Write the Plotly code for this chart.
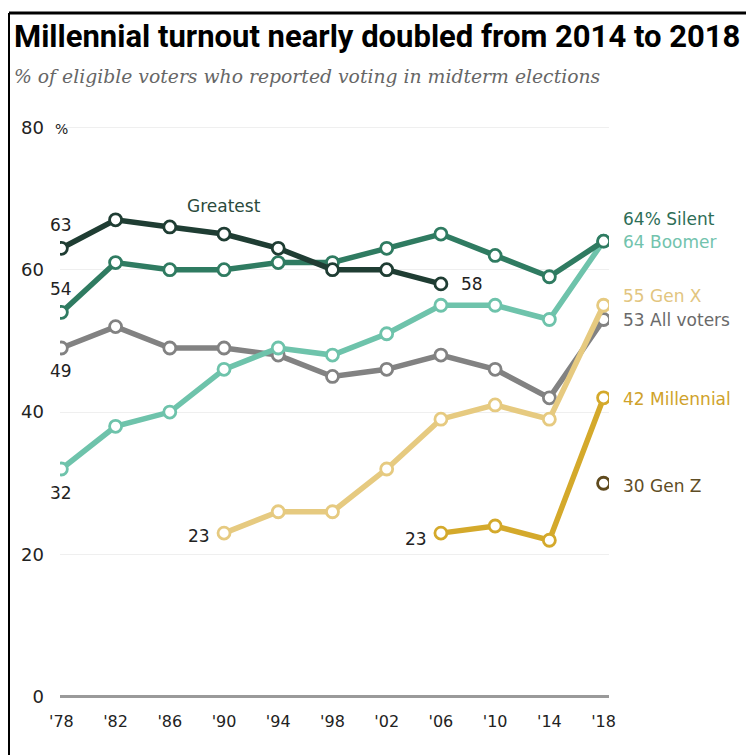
import plotly.graph_objects as go

years = [1978, 1982, 1986, 1990, 1994, 1998, 2002, 2006, 2010, 2014, 2018]
tick_text = ["'78", "'82", "'86", "'90", "'94", "'98", "'02", "'06", "'10", "'14", "'18"]

greatest = [63, 67, 66, 65, 63, 60, 60, 58, None, None, None]
silent = [54, 61, 60, 60, 61, 61, 63, 65, 62, 59, 64]
boomer = [32, 38, 40, 46, 49, 48, 51, 55, 55, 53, 64]
all_voters = [49, 52, 49, 49, 48, 45, 46, 48, 46, 42, 53]
gen_x = [None, None, None, 23, 26, 26, 32, 39, 41, 39, 55]
millennial = [None, None, None, None, None, None, None, 23, 24, 22, 42]
gen_z = [None, None, None, None, None, None, None, None, None, None, 30]

colors = {
    "Greatest": "#1f3d33",
    "Silent": "#2f7b61",
    "Boomer": "#6ec3ab",
    "All voters": "#828282",
    "Gen X": "#e6ca80",
    "Millennial": "#d4a92b",
    "Gen Z": "#5f4a1e",
}

fig = go.Figure()

series = [
    ("All voters", all_voters),
    ("Boomer", boomer),
    ("Silent", silent),
    ("Greatest", greatest),
    ("Gen X", gen_x),
    ("Millennial", millennial),
    ("Gen Z", gen_z),
]
for name, vals in series:
    c = colors[name]
    fig.add_trace(go.Scatter(
        x=years, y=vals, mode="lines+markers", name=name,
        line=dict(color=c, width=5.5),
        marker=dict(symbol="circle", size=12, color="white",
                    line=dict(color=c, width=2.8)),
        connectgaps=False, showlegend=False, hoverinfo="skip",
    ))

FONT = "DejaVu Sans"
ann = []
right_labels = [
    ("64% Silent", 64, 22, "#2e6e57"),
    ("64 Boomer", 64, -1, "#72c3ad"),
    ("55 Gen X", 55, 9, "#e2c57f"),
    ("53 All voters", 53, -1, "#6a6a6a"),
    ("42 Millennial", 42, -1, "#cfa22a"),
    ("30 Gen Z", 30, -3, "#5f4d25"),
]
for txt, yv, ys, col in right_labels:
    ann.append(dict(x=2018, y=yv, xref="x", yref="y", text=txt, showarrow=False,
                    xanchor="left", yanchor="middle", xshift=17, yshift=ys,
                    font=dict(family=FONT, size=17, color=col)))

dark = "#222222"
left_labels = [
    ("63", 1978, greatest[0], 0, 23, "center"),
    ("54", 1978, silent[0], 0, 23, "center"),
    ("49", 1978, all_voters[0], 0, -23, "center"),
    ("32", 1978, boomer[0], 0, -24, "center"),
    ("23", 1990, gen_x[3], -12, -3, "right"),
    ("23", 2006, millennial[7], -12, -6, "right"),
    ("58", 2006, greatest[7], 18, 0, "left"),
]
for txt, xv, yv, xs, ys, xa in left_labels:
    ann.append(dict(x=xv, y=yv, xref="x", yref="y", text=txt, showarrow=False,
                    xanchor=xa, yanchor="middle", xshift=xs, yshift=ys,
                    font=dict(family=FONT, size=17, color=dark)))

ann.append(dict(x=1990, y=69, xref="x", yref="y", text="Greatest", showarrow=False,
                xanchor="center", yanchor="middle",
                font=dict(family=FONT, size=17, color="#2b4a3c")))

# page has an 8px body margin; positions below are in figure pixels
L, R, T, B = 52, 601, 105, 696
W, H = R - L, B - T
def px(xp):
    return (xp - L) / W
def py(yp):
    return (B - yp) / H

ann.append(dict(x=px(4), y=py(28), xref="paper", yref="paper",
                text="<b>Millennial turnout nearly doubled from 2014 to 2018</b>",
                showarrow=False, xanchor="left", yanchor="middle",
                font=dict(family="Roboto", size=31, color="#000000")))
ann.append(dict(x=px(4), y=py(68), xref="paper", yref="paper",
                text="<i>% of eligible voters who reported voting in midterm elections</i>",
                showarrow=False, xanchor="left", yanchor="middle",
                font=dict(family="DejaVu Serif", size=18.8, color="#666666")))
ann.append(dict(x=px(45), y=80, xref="paper", yref="y", text="%", showarrow=False,
                xanchor="left", yanchor="middle", yshift=-2,
                font=dict(family=FONT, size=14, color=dark)))

shapes = [
    dict(type="line", xref="paper", yref="paper", x0=px(1), x1=px(760), y0=py(5), y1=py(5),
         line=dict(color="black", width=3)),
    dict(type="line", xref="paper", yref="paper", x0=px(1), x1=px(1), y0=py(5), y1=py(760),
         line=dict(color="black", width=2)),
]

fig.update_layout(
    width=754, height=755,
    margin=dict(l=L, r=754 - R, t=T, b=755 - B),
    paper_bgcolor="white", plot_bgcolor="white",
    annotations=ann, shapes=shapes,
    xaxis=dict(range=[1977.9, 2018.4], tickvals=years, ticktext=tick_text,
               showgrid=False, zeroline=False, showline=False,
               tickfont=dict(family=FONT, size=16, color=dark),
               ticks="", ticklabelstandoff=6),
    yaxis=dict(range=[-1, 82], tickvals=[0, 20, 40, 60, 80],
               showgrid=True, gridcolor="#efefef", gridwidth=1,
               zeroline=True, zerolinecolor="#9a9a9a", zerolinewidth=3,
               showline=False,
               tickfont=dict(family=FONT, size=18, color=dark),
               ticks="", ticklabelstandoff=15),
    font=dict(family=FONT),
)

fig.write_html("out.html")
